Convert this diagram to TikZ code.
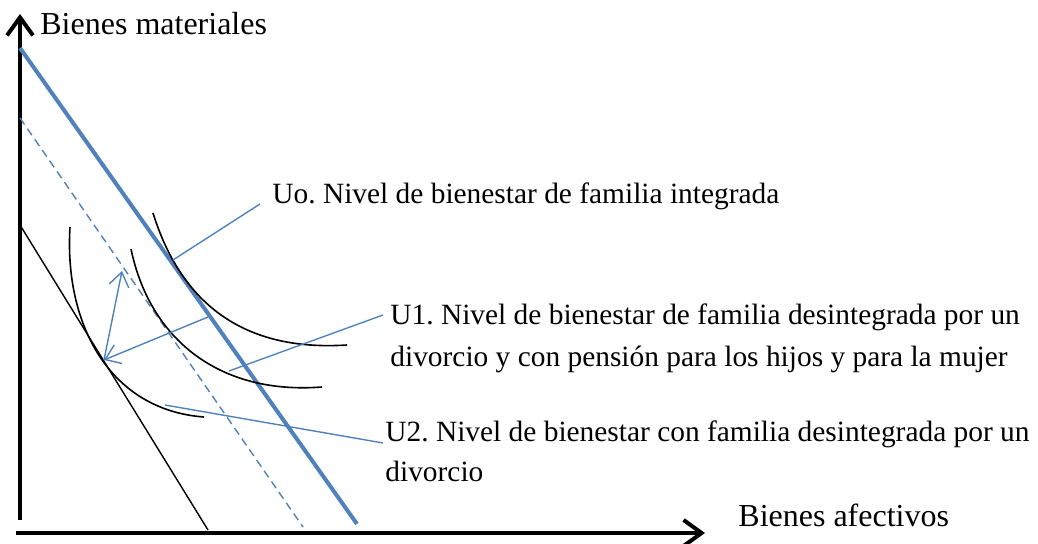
\documentclass[tikz,border=0pt]{standalone}
\usepackage{fontspec}
\setmainfont{Liberation Serif}
\usetikzlibrary{arrows.meta}
\definecolor{ofblue}{RGB}{79,129,189}
\frenchspacing
\tikzset{
  lbl/.style={anchor=base west, inner sep=0pt, font=\fontsize{14.7}{18}\selectfont},
  ejelbl/.style={lbl, font=\fontsize{16}{19}\selectfont},
  eje/.style={line width=2pt, -{Straight Barb[length=9pt,width=13pt]}},
  curva/.style={line width=0.8pt},
  guia/.style={ofblue, line width=0.7pt},
  flecha/.style={ofblue, line width=0.7pt, -{Straight Barb[length=7pt,width=10pt]}},
}
\begin{document}
\begin{tikzpicture}[x=0.5pt,y=-0.5pt]
\useasboundingbox (0,0) rectangle (1038,544);

% ejes
\coordinate (y0) at (20,520);
\coordinate (y1) at (20,14);
\coordinate (x0) at (16,533);
\coordinate (x1) at (705,533);
\draw[eje] (y0) -- (y1);
\draw[eje] (x0) -- (x1);
\node[ejelbl] (bmat) at (40,35) {Bienes materiales};
\node[ejelbl] (bafe) at (738,527) {Bienes afectivos};

% rectas de presupuesto
\draw[ofblue, line width=2pt] (20,48) -- (357,524);
\draw[ofblue, line width=0.7pt, dash pattern=on 4pt off 2.5pt] (20,118) -- (303,527);
\draw[line width=0.7pt] (20,225) -- (208,530);

% curvas de indiferencia
\draw[curva] (153,213) .. controls (180,300) and (240,352) .. (347,345);
\draw[curva] (131,249) .. controls (150,340) and (220,395) .. (322,387);
\draw[curva] (70,227) .. controls (64,325) and (110,410) .. (204,417);

% flechas
\coordinate (pa) at (208,317);
\coordinate (pt) at (104,360);
\coordinate (pb) at (122,271);
\draw[flecha] (pa) -- (pt);
\draw[flecha] (pt) -- (pb);

% etiquetas
\node[lbl] (uo) at (272,204) {Uo. Nivel de bienestar de familia integrada};
\node[lbl] (u1a) at (390,325) {U1. Nivel de bienestar de familia desintegrada por un};
\node[lbl] (u1b) at (390,367) {divorcio y con pensión para los hijos y para la mujer};
\node[lbl] (u2a) at (385,442) {U2. Nivel de bienestar con familia desintegrada por un};
\node[lbl] (u2b) at (385,482) {divorcio};

\coordinate (uoc) at (173,260);
\coordinate (uoe) at (260,204);
\coordinate (u1c) at (229,371);
\coordinate (u1e) at (383,315);
\coordinate (u2c) at (165,405);
\coordinate (u2e) at (383,443);
\draw[guia] (uoc) -- (uoe);
\draw[guia] (u1c) -- (u1e);
\draw[guia] (u2c) -- (u2e);
\end{tikzpicture}
\end{document}
